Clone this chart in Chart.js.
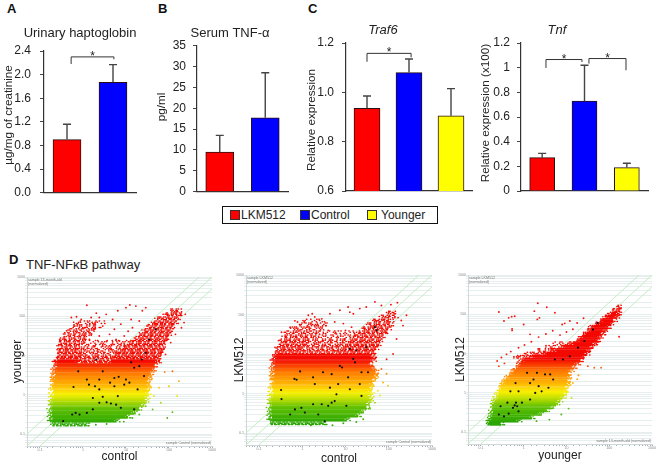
<!DOCTYPE html>
<html><head><meta charset="utf-8">
<script src="https://cdn.jsdelivr.net/npm/chart.js@4"></script>
<style>
html,body{margin:0;padding:0;background:#fff;width:661px;height:466px;overflow:hidden;font-family:"Liberation Sans",Arial,sans-serif;color:#222}
canvas{position:absolute}
canvas.soft{filter:blur(0.7px)}
canvas.crisp{filter:blur(0.35px)}
.t{position:absolute;white-space:nowrap}
.letter{font-weight:bold;font-size:13px;line-height:14px;color:#111}
#legend{position:absolute;left:222px;top:206px;width:214px;height:16px;border:1.5px solid #111;background:#fff}
#legend span{position:absolute;font-size:12px;line-height:16px;top:0}
#legend i{position:absolute;top:3px;width:8px;height:8px;border:1px solid #333}
</style></head><body>
<div class="t letter" style="left:7px;top:2px">A</div>
<div class="t letter" style="left:158px;top:2px">B</div>
<div class="t letter" style="left:308px;top:2px">C</div>
<div class="t letter" style="left:9px;top:253px">D</div>
<div class="t" style="left:26px;top:257px;font-size:13px;line-height:15px">TNF-NFκB pathway</div>
<div id="legend">
<i style="left:7px;background:#f00"></i><span style="left:18px">LKM512</span>
<i style="left:77px;background:#00f"></i><span style="left:88px">Control</span>
<i style="left:144px;background:#ff0"></i><span style="left:158px">Younger</span>
</div>
<script>
// ---------- bar panels ----------
const groups3 = ['LKM512','Control','Younger'];
const groups2 = ['LKM512','Control'];
const barColors = ['#ff0000','#0000ff','#ffff00'];

const hapto = [0.9, 1.87];
const haptoErrTop = [1.16, 2.17];
const haptoTicks = ['0.0','0.4','0.8','1.2','1.6','2.0','2.4'];

const tnfAlpha = [9.5, 17.7];
const tnfAlphaErrTop = [13.5, 28.5];

const traf6 = [0.935, 1.08, 0.905];
const traf6ErrTop = [0.985, 1.135, 1.015];

const tnf = [0.27, 0.73, 0.19];
const tnfErrTop = [0.305, 1.02, 0.225];

// brackets: from category, to category, level, left foot, right foot
const haptoBrackets = [[0.09, 1.02, 2.3, 2.18, 2.26]];
const traf6Brackets = [[0.0, 1.05, 1.158, 1.124, 1.142]];
const tnfBrackets = [[0.09, 0.94, 1.066, 0.998, 1.046],[1.105, 1.98, 1.074, 1.033, 0.979]];

// ---------- expression scatter panels (log10 values) ----------
// rows of the dense cloud: log10 y, log10 x from, log10 x to, density 0..1
const rowsYoungerControl = [
[-0.75,-0.72,0.15,.9],[-0.65,-0.76,0.8,1],[-0.55,-0.77,1.05,1],[-0.45,-0.77,1.2,1],[-0.35,-0.77,1.32,1],[-0.25,-0.76,1.42,1],[-0.15,-0.75,1.47,1],[-0.05,-0.74,1.5,1],
[0.05,-0.73,1.52,1],[0.15,-0.73,1.53,1],[0.25,-0.72,1.55,1],[0.35,-0.72,1.55,1],[0.45,-0.71,1.57,1],[0.55,-0.7,1.6,1],[0.65,-0.68,1.65,1],[0.75,-0.66,1.7,1],
[0.85,-0.65,-0.1,1],[0.85,-0.1,0.6,.75],[0.85,0.6,1.75,1],
[0.95,-0.62,-0.1,.95],[0.95,-0.1,0.7,.55],[0.95,0.7,1.8,.95],
[1.05,-0.6,0,.8],[1.05,0,0.75,.3],[1.05,0.75,1.85,.9],
[1.15,-0.6,-0.1,.7],[1.15,-0.1,0.85,.22],[1.15,0.85,1.88,.8],
[1.25,-0.58,-0.05,.55],[1.25,-0.05,0.95,.16],[1.25,0.95,1.9,.75],
[1.35,-0.55,0,.5],[1.35,0,1.05,.1],[1.35,1.05,1.95,.7],
[1.45,-0.5,0.1,.42],[1.45,1.2,2,.7],[1.55,-0.45,0.2,.38],[1.55,1.3,2.05,.7],
[1.65,-0.35,0.3,.3],[1.65,1.4,2.1,.65],[1.75,-0.25,0.4,.22],[1.75,1.5,2.15,.65],
[1.85,-0.2,0.5,.15],[1.85,1.6,2.2,.65],[1.95,1.7,2.25,.62],[2.05,1.88,2.3,.55],[2.15,2.02,2.3,.4]];
const sparseYoungerControl = [
[0.09,2.28],[-0.27,1.97],[-0.15,1.99],[-0.04,1.92],[0.19,1.97],[0.31,2.08],[0.38,1.97],[0.54,2.05],[0.69,1.92],[0.81,2.14],[1.0,2.22],[1.09,2.29],[1.23,2.26],[1.38,2.14],[1.46,2.22],
[0.88,1.8],[0.73,1.67],[1.12,1.92],[1.15,1.71],[1.31,1.88],[0.46,1.75],[0.27,1.67],[0.04,1.71],[-0.19,1.75],[-0.38,1.63],[-0.54,1.41],[0.62,1.54],[0.77,1.41],[0.38,1.5],[0.15,1.41],
[0.46,1.24],[0.65,1.16],[0.27,1.24],[0.04,1.33],[0.96,1.5],[0.96,1.24],[0.85,1.37],[0.55,1.36],[0.2,1.55],[0.7,1.28],[1.05,1.62],[0.92,1.05],[0.35,1.1],[0.1,1.18],
[2.27,2.05],[2.38,2.05],[2.35,1.84],[2.29,1.71],[2.15,1.54],[2.04,1.33],[1.88,1.16],[1.92,1.03],[1.77,0.86],
[2.08,0.6],[1.9,0.58],[2.23,0.35],[2.0,0.22],[2.19,-0.03],[1.77,0.18],[1.65,-0.03],[1.81,-0.2],[2.08,-0.44],[1.96,-0.59],[1.62,-0.37],[1.46,-0.29],[1.31,-0.5],[1.15,-0.59],[0.95,-0.68],[0.55,-0.74],[0.3,-0.76]];
const genesYoungerControl = [
[-0.22,0.2],[-0.11,0.6],[0.09,0.39],[0.14,0.26],[0.28,0.22],[0.38,0.14],[0.46,0.6],[0.63,0.31],[0.73,0.43],[0.83,0.46],[0.96,0.26],[1.08,0.31],[1.19,0.69],[1.31,0.73],[1.37,0.9],[1.46,1.07],[1.12,0.83],[1.69,1.67],[1.54,1.41],
[-0.17,-0.46],[-0.08,-0.5],[0.09,-0.46],[0.23,-0.37],[0.38,-0.2],[0.55,-0.19],[0.65,-0.22],[0.77,-0.25],[0.46,-0.05],[0.23,-0.08],[0.88,-0.33],[-0.46,-0.67],[1.27,0.14],[0.73,0.22],[1.0,0.39],[0.38,0.39],[0.31,0.9],[1.42,0.48],[0.81,-0.03],[1.19,-0.37],[-0.25,-0.5]];

const rowsLkmControl = [
[-0.75,-0.74,0.55,.95],[-0.65,-0.75,1.05,1],[-0.55,-0.76,1.3,1],[-0.45,-0.76,1.4,1],[-0.35,-0.76,1.5,1],[-0.25,-0.76,1.55,1],[-0.15,-0.75,1.58,1],[-0.05,-0.74,1.6,1],
[0.05,-0.72,1.6,1],[0.15,-0.72,1.6,1],[0.25,-0.71,1.62,1],[0.35,-0.71,1.68,1],[0.45,-0.71,1.72,1],[0.55,-0.7,1.72,1],[0.65,-0.7,1.65,1],[0.75,-0.69,1.6,1],[0.85,-0.68,1.65,1],[0.95,-0.66,1.65,1],
[1.05,-0.64,0.1,.9],[1.05,0.1,0.8,.6],[1.05,0.8,1.7,.88],
[1.15,-0.6,0,.75],[1.15,0,0.9,.42],[1.15,0.9,1.75,.8],
[1.25,-0.55,0.1,.62],[1.25,0.1,1,.3],[1.25,1,1.8,.72],
[1.35,-0.5,0.2,.5],[1.35,0.2,1.1,.22],[1.35,1.1,1.85,.62],
[1.45,-0.45,0.3,.4],[1.45,0.3,1.2,.14],[1.45,1.2,1.9,.58],
[1.55,-0.4,0.4,.32],[1.55,0.4,1.3,.1],[1.55,1.3,2,.55],
[1.65,-0.25,0.5,.25],[1.65,1.4,2.05,.55],[1.75,-0.1,0.6,.16],[1.75,1.5,2.1,.5],[1.85,0,0.5,.1],[1.85,1.6,2.1,.45],[1.95,1.8,2.2,.35],[2.05,1.95,2.15,.3]];
const sparseLkmControl = [
[-0.17,1.84],[-0.11,1.81],[0.14,1.98],[0.23,2.02],[0.29,1.94],[0.45,1.89],[0.64,2.02],[0.87,2.11],[1.06,2.19],[1.1,2.06],[1.18,2.02],[1.33,2.15],[1.48,2.19],[1.68,2.32],[1.83,2.23],[2.05,2.25],[2.2,2.3],
[0.75,1.81],[0.95,1.77],[1.14,1.68],[0.6,1.6],[0.79,1.51],[0.98,1.38],[1.22,1.47],[0.37,1.72],[0.1,1.68],[0.48,1.34],[0.29,1.26],[0.68,1.17],[0.87,1.21],[-0.48,1.55],[-0.55,1.34],[-0.63,1.17],[-0.28,1.68],
[0.05,1.8],[0.2,1.76],[0.55,1.72],[1.0,1.6],[0.7,1.35],[0.4,1.5],
[2.41,1.98],[2.29,1.85],[2.33,1.72],[2.18,1.38],[2.1,1.0],[1.95,0.87],[1.83,0.62],[1.95,0.5],[1.87,0.28],[1.98,0.2],[1.75,0.07],[1.68,-0.23],[1.56,-0.36],[1.41,-0.65],[1.6,-0.14],[1.8,-0.05],[1.25,-0.72],[0.95,-0.75],[0.7,-0.8],[0.2,-0.8]];
const genesLkmControl = [
[-0.18,0.37],[-0.13,0.35],[-0.05,0.56],[-0.49,0.09],[-0.48,-0.14],[0.25,0.41],[0.48,0.54],[0.68,0.49],[0.87,0.7],[0.92,0.66],[1.06,0.41],[1.18,0.88],[1.1,1.13],[1.25,1.09],[1.37,0.54],[1.52,0.54],[1.33,0.24],[1.1,0.11],[0.83,0.24],[0.64,0.15],[0.29,0.24],
[-0.02,-0.36],[-0.17,-0.4],[-0.28,-0.53],[0.06,-0.48],[0.25,-0.27],[0.45,-0.27],[0.6,-0.31],[0.68,-0.23],[0.75,-0.19],[1.02,-0.31],[0.37,-0.53],[0.52,-0.7],[0.79,-0.02],[1.37,-0.06],[1.72,1.6],[1.68,1.68],[1.22,0.79],[1.48,1.17]];

const rowsLkmYounger = [
[-0.78,-0.85,-0.5,1],[-0.7,-0.81,-0.1,1],[-0.62,-0.79,0.2,1],[-0.53,-0.77,0.4,1],[-0.44,-0.75,0.56,1],[-0.36,-0.73,0.7,1],[-0.27,-0.72,0.78,1],[-0.19,-0.69,0.86,1],[-0.1,-0.65,0.93,1],[-0.02,-0.62,0.98,1],
[0.07,-0.58,1,1],[0.15,-0.54,1.03,1],[0.24,-0.5,1.06,1],[0.32,-0.46,1.05,1],[0.41,-0.38,1.07,1],[0.49,-0.31,1.08,1],[0.58,-0.23,1.12,1],[0.66,-0.15,1.18,1],[0.75,-0.12,1.26,1],[0.83,-0.04,1.34,1],
[0.92,0.19,1.41,1],[0.92,-0.25,0.19,.35],[1.0,0.48,1.49,1],[1.0,0,0.48,.3],[1.09,0.72,1.54,1],[1.09,0.3,0.72,.25],[1.17,0.92,1.61,1],[1.17,0.5,0.92,.18],[1.26,1.1,1.68,1],[1.26,0.7,1.1,.15],
[1.34,1.26,1.76,1],[1.43,1.34,1.8,1],[1.51,1.42,1.85,1],[1.6,1.53,1.92,1],[1.68,1.58,1.99,1],[1.77,1.72,2.07,1],[1.85,1.8,2.12,1],[1.94,1.92,2.18,1],[2.02,2.03,2.23,1],[2.11,2.08,2.27,.9],[2.2,2.19,2.27,.7]];
const sparseLkmYounger = [
[-0.58,2.06],[-0.35,1.91],[-0.28,1.94],[-0.21,1.95],[-0.27,1.63],[-0.27,1.59],[0,1.74],[0.25,2.08],[0.33,2.28],[0.54,2.18],[0.73,2.04],[0.32,1.87],[0.37,1.91],[-0.46,1.83],[0.15,1.49],[0.9,1.74],[0.96,1.77],[1.08,1.83],
[2.23,1.43],[-0.62,0.81],[-0.58,0.68],[-0.52,0.9],[-0.45,0.75],[-0.4,0.98],[-0.3,1.05],[-0.12,1.15],[0.02,1.22],[0.18,1.3],[0.35,1.42],[0.52,1.5],[0.68,1.58],[0.85,1.47],[1.0,1.55],[1.15,1.62],[1.25,1.78],[1.4,1.9],
[1.5,0.68],[1.65,0.64],[1.81,0.64],[1.15,0.25],[1.25,0.35],[1.12,-0.13],[0.88,-0.55],[1.4,0.9],[1.6,1.15],[1.75,1.3],[1.9,1.55],[1.28,0.45],[1.05,-0.4],[0.6,-0.68],[0.3,-0.72]];
const genesLkmYounger = [
[-0.18,-0.25],[-0.21,-0.32],[-0.25,-0.38],[-0.15,-0.34],[-0.12,-0.47],[-0.38,-0.25],[-0.54,-0.34],[-0.58,-0.55],[-0.46,-0.6],[-0.35,-0.53],[-0.04,-0.25],[0.15,-0.17],[0.27,0],[-0.12,0.04],[-0.31,0.04],[0.15,0.25],[0.31,0.51],[0.5,0.47],[0.62,0.47],[0.23,0.34],[0.35,0.17],[0.58,0.13],[0.69,0.34],[0.73,0.85],[0.92,0.85],[1.08,0.93],[1.27,1.15],[1.42,1.32],[1.62,1.61],[1.73,1.78],[0.42,0.04],[0.08,0.51],[-0.19,0.25]];

// fold-change guide lines as end points
const foldUp = [[0.05,0.1],[500,1000]];
const foldEven = [[0.05,0.05],[1000,1000]];
const foldDown = [[0.1,0.05],[1000,500]];

// ---------- drawing ----------
const FONT = '"Liberation Sans", Arial, sans-serif';
const INK = '#222';
function addCanvas(left, top, w, h, cls) {
  const c = document.createElement('canvas');
  c.width = w; c.height = h; c.className = cls;
  c.style.cssText = `left:${left}px;top:${top}px;width:${w}px;height:${h}px`;
  document.body.appendChild(c);
  return c;
}

function barPanel(p) {
  const plugin = {
    id: 'marks',
    afterDatasetsDraw(chart) {
      const { ctx, scales: { x, y } } = chart;
      ctx.save();
      ctx.strokeStyle = '#444'; ctx.lineWidth = 1.4;
      p.err.forEach((top, i) => {
        const px = x.getPixelForValue(i), a = y.getPixelForValue(p.values[i]), b = y.getPixelForValue(top);
        ctx.beginPath();
        ctx.moveTo(px, a); ctx.lineTo(px, b);
        ctx.moveTo(px - 4, b); ctx.lineTo(px + 4, b);
        ctx.stroke();
      });
      ctx.strokeStyle = '#333'; ctx.lineWidth = 1;
      ctx.fillStyle = INK; ctx.textAlign = 'center'; ctx.textBaseline = 'alphabetic';
      ctx.font = '12px ' + FONT;
      (p.brackets || []).forEach(([a, b, lev, fa, fb]) => {
        const xa = x.getPixelForValue(a), xb = x.getPixelForValue(b), yl = y.getPixelForValue(lev);
        ctx.beginPath();
        ctx.moveTo(xa, y.getPixelForValue(fa)); ctx.lineTo(xa, yl); ctx.lineTo(xb, yl); ctx.lineTo(xb, y.getPixelForValue(fb));
        ctx.stroke();
        ctx.fillText('*', (xa + xb) / 2, yl + 3);
      });
      ctx.textBaseline = 'middle';
      ctx.font = (p.italic ? 'italic ' : '') + p.titleSize + 'px ' + FONT;
      ctx.fillText(p.title, p.tx - p.left, p.tc);
      ctx.translate(p.yt[0] - p.left, p.yt[1]);
      ctx.rotate(-Math.PI / 2);
      ctx.font = '11.7px ' + FONT;
      ctx.fillText(p.yTitle, 0, 0);
      ctx.restore();
    }
  };
  new Chart(addCanvas(p.left, 0, p.width, Math.round(p.bottom + 20), 'crisp'), {
    type: 'bar',
    plugins: [plugin],
    data: { labels: p.labels, datasets: [{ data: p.values, backgroundColor: barColors, borderColor: '#2a1010', borderWidth: 1, barThickness: p.barW }] },
    options: {
      responsive: false, animation: false,
      layout: { padding: { top: p.top, right: p.left + p.width - p.right, left: 0, bottom: 0 } },
      plugins: { legend: { display: false }, tooltip: { enabled: false } },
      scales: {
        x: { grid: { display: false }, ticks: { display: false }, border: { color: '#333', width: 1.2 }, afterFit(s) { s.height = Math.round(p.bottom + 20) - p.bottom; } },
        y: { min: p.min, max: p.max, afterFit(s) { s.width = p.axis - p.left; },
          afterBuildTicks(s) { s.ticks = p.ticks.map(t => ({ value: +t })); },
          grid: { drawOnChartArea: false, drawTicks: true, tickLength: 4, color: '#444' }, border: { color: '#333', width: 1.2 },
          ticks: { color: INK, padding: p.tickPad, font: { family: FONT, size: 12 }, autoSkip: false, callback: (v, i) => p.ticks[i] } }
      }
    }
  });
}

const STOPS = [[-0.75,[40,165,0]],[-0.35,[96,192,0]],[-0.15,[184,220,0]],[0.02,[248,240,0]],[0.25,[255,180,0]],[0.55,[255,122,0]],[0.85,[244,10,0]],[3,[244,0,0]]];
function colorAt(l) {
  if (l <= STOPS[0][0]) return STOPS[0][1];
  for (let i = 1; i < STOPS.length; i++) if (l <= STOPS[i][0]) {
    const [a, ca] = STOPS[i - 1], [b, cb] = STOPS[i], t = (l - a) / (b - a);
    return ca.map((v, k) => Math.round(v + (cb[k] - v) * t));
  }
  return STOPS[STOPS.length - 1][1];
}
function rgba(c, a) { return `rgba(${c[0]},${c[1]},${c[2]},${a})`; }
function bandStroke(ctx) {
  const chart = ctx.chart, y = chart.scales.y;
  if (!y || !chart.chartArea) return rgba(STOPS[3][1], 1);
  if (chart.$band) return chart.$band;
  const g = chart.ctx.createLinearGradient(0, y.getPixelForValue(0.05), 0, y.getPixelForValue(1000));
  const y0 = Math.log10(0.05), span = 3 - y0;
  STOPS.forEach(([l, c]) => g.addColorStop(Math.min(1, Math.max(0, (l - y0) / span)), rgba(c, 1)));
  chart.$band = g;
  return g;
}

// one row is painted as three thin strokes; partial density is painted as round dots along the stroke
const STROKE_Y = [-0.033, 0, 0.033];
const STROKE_X = [0.02, -0.03, 0.01];
const DOT_RHYTHM = [0.5, 1.6, 0.8, 1.2, 0.4, 1.9, 1, 0.7];
function rowStrokes(rows, pts) {
  const out = [];
  rows.forEach(([ly, a, b, d], r) => {
    STROKE_Y.forEach((dy, k) => {
      const l = ly + dy, s = STROKE_X[k];
      const parts = d >= 0.99
        ? [[a + s + 0.04, b + s - 0.04, 1], [a + s - 0.04, a + s + 0.04, 0.6], [b + s - 0.04, b + s + 0.05, 0.6]]
        : [[a + s, b + s, d]];
      parts.forEach(([p0, p1, den], q) => {
        const solid = den >= 0.99;
        const gap = 1.35 / Math.pow(den, 0.55);
        const dash = [];
        DOT_RHYTHM.forEach(m => dash.push(0.3, gap * m));
        out.push({
          label: 'cloud', data: pts([[p0, l], [p1, l]]), showLine: true, pointRadius: 0, borderWidth: solid ? 1.7 : 1.5, borderCapStyle: solid ? 'butt' : 'round', borderColor: bandStroke,
          borderDash: solid ? [] : dash, borderDashOffset: (r * 13 + k * 29 + q * 7) % 53
        });
      });
    });
  });
  return out;
}

function scatterPanel(p) {
  const notes = {
    id: 'notes',
    afterDatasetsDraw(chart) {
      const { ctx, chartArea: a } = chart;
      ctx.save();
      ctx.fillStyle = '#777'; ctx.font = '3.6px ' + FONT; ctx.textBaseline = 'top';
      ctx.textAlign = 'left';
      ctx.fillText('sample ' + p.ySample, a.left + 1, a.top + 1);
      ctx.fillText('(normalized)', a.left + 1, a.top + 5);
      ctx.textAlign = 'right'; ctx.textBaseline = 'bottom';
      ctx.fillText('sample ' + p.xSample + ' (normalized)', a.right - 1, a.bottom - 1);
      ctx.restore();
    }
  };
  const pts = a => a.map(([lx, ly]) => ({ x: 10 ** lx, y: 10 ** ly }));
  const ends = a => a.map(([x, y]) => ({ x, y }));
  const datasets = [
    { label: 'TNF-NFκB genes', data: pts(p.genes), pointRadius: 1.1, pointBackgroundColor: '#111', pointBorderWidth: 0, showLine: false },
    { label: 'scattered probes', data: pts(p.sparse), pointRadius: 0.95, pointBorderWidth: 0, showLine: false,
      pointBackgroundColor: c => rgba(colorAt(Math.log10(c.raw ? c.raw.y : 1)), 0.95) },
    ...rowStrokes(p.rows, pts)
  ];
  [foldUp, foldEven, foldDown].forEach(f => datasets.push({
    label: 'fold', data: ends(f), showLine: true, pointRadius: 0, borderWidth: 1, borderColor: '#c3ecc3'
  }));
  const dec = v => { const l = Math.log10(v); return Math.abs(l - Math.round(l)) < 1e-6 ? String(+v.toPrecision(1)) : ''; };
  new Chart(addCanvas(p.left, p.ctop, p.right + 3 - p.left, 466 - p.ctop, 'soft'), {
    type: 'scatter', plugins: [notes],
    data: { datasets },
    options: {
      responsive: false, animation: false,
      layout: { padding: { top: p.top - p.ctop, right: 3, left: 0, bottom: 0 } },
      plugins: { legend: { display: false }, tooltip: { enabled: false } },
      scales: {
        x: { type: 'logarithmic', min: 0.05, max: 1000, afterFit(s) { s.height = 466 - p.bottom; },
          title: { display: true, text: p.xTitle, color: INK, font: { family: FONT, size: 12 }, padding: { top: 0, bottom: p.xPad } },
          grid: { drawOnChartArea: false, drawTicks: true, tickLength: 2, color: '#aab' }, border: { color: '#cfd8d8' },
          ticks: { autoSkip: false, maxRotation: 0, color: '#888', padding: 0, font: { family: FONT, size: 3.6 }, callback: dec } },
        y: { type: 'logarithmic', min: 0.05, max: 1000, afterFit(s) { s.width = p.axis - p.left; },
          title: { display: true, text: p.yTitle, color: INK, font: { family: FONT, size: 12 }, padding: { top: p.yPad, bottom: 0 } },
          grid: { color: '#e0ebe9', lineWidth: 0.8, drawTicks: true, tickLength: 2 }, border: { color: '#cfd8d8' },
          ticks: { autoSkip: false, color: '#888', padding: 0, font: { family: FONT, size: 3.6 }, callback: dec } }
      }
    }
  });
}

barPanel({ left: 0, width: 160, axis: 44, right: 136, top: 51, bottom: 192.7, tc: 33, tx: 80, titleSize: 13, title: 'Urinary haptoglobin', tickPad: 9,
  labels: groups2, values: hapto, err: haptoErrTop, min: 0, max: 2.4, ticks: haptoTicks, barW: 28, brackets: haptoBrackets, yTitle: 'µg/mg of creatinine', yt: [9, 115] });
barPanel({ left: 150, width: 160, axis: 197, right: 288, top: 45.7, bottom: 191.7, tc: 33, tx: 230, titleSize: 13, title: 'Serum TNF-α', tickPad: 7,
  labels: groups2, values: tnfAlpha, err: tnfAlphaErrTop, min: 0, max: 35, ticks: ['0','5','10','15','20','25','30','35'], barW: 28, yTitle: 'pg/ml', yt: [162, 107] });
barPanel({ left: 290, width: 186, axis: 346, right: 472, top: 43, bottom: 191, tc: 30, tx: 383, titleSize: 13, italic: true, title: 'Traf6', tickPad: 8,
  labels: groups3, values: traf6, err: traf6ErrTop, min: 0.6, max: 1.2, ticks: ['0.6','0.8','1.0','1.2'], barW: 26, brackets: traf6Brackets, yTitle: 'Relative expression', yt: [312, 120] });
barPanel({ left: 466, width: 186, axis: 521, right: 648, top: 43, bottom: 191, tc: 30, tx: 557, titleSize: 13, italic: true, title: 'Tnf', tickPad: 7,
  labels: groups3, values: tnf, err: tnfErrTop, min: 0, max: 1.2, ticks: ['0','0.2','0.4','0.6','0.8','1','1.2'], barW: 25, brackets: tnfBrackets, yTitle: 'Relative expression (x100)', yt: [486, 113] });

scatterPanel({ left: 7, axis: 27, right: 213, ctop: 265, top: 277, bottom: 446, xTitle: 'control', yTitle: 'younger', xPad: 2, yPad: 3,
  ySample: '13-month-old', xSample: 'Control', rows: rowsYoungerControl, sparse: sparseYoungerControl, genes: genesYoungerControl });
scatterPanel({ left: 228, axis: 246, right: 433, ctop: 263, top: 275, bottom: 445, xTitle: 'control', yTitle: 'LKM512', xPad: 0, yPad: 4,
  ySample: 'LKM512', xSample: 'Control', rows: rowsLkmControl, sparse: sparseLkmControl, genes: genesLkmControl });
scatterPanel({ left: 448, axis: 468, right: 653, ctop: 263, top: 275, bottom: 444, xTitle: 'younger', yTitle: 'LKM512', xPad: 3, yPad: 5,
  ySample: 'LKM512', xSample: '13-month-old', rows: rowsLkmYounger, sparse: sparseLkmYounger, genes: genesLkmYounger });
</script>
</body></html>
